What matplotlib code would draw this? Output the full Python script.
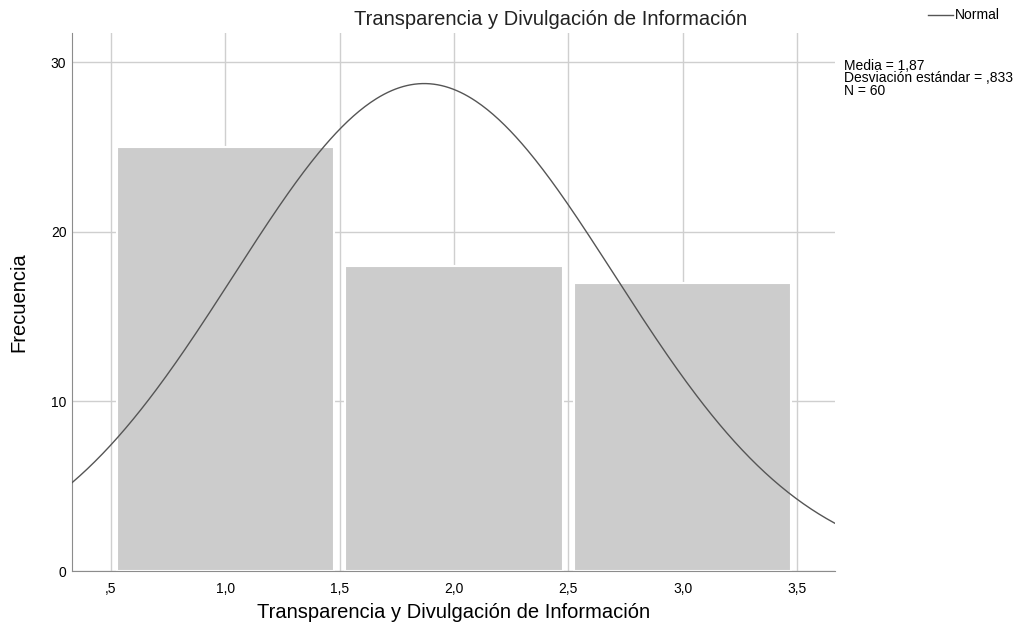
import numpy as np
import matplotlib
matplotlib.use('Agg')
import matplotlib.pyplot as plt

centros = [1.0, 2.0, 3.0]
frecuencias = [25, 18, 17]
media = 1.87
desv = 0.833
n = 60
xticks = [0.5, 1.0, 1.5, 2.0, 2.5, 3.0, 3.5]
xlabels = [',5', '1,0', '1,5', '2,0', '2,5', '3,0', '3,5']
yticks = [0, 10, 20, 30]

fuente = ['Liberation Sans', 'DejaVu Sans']
plt.rcParams['font.family'] = fuente

fig = plt.figure(figsize=(10.25, 6.4), dpi=100)
ax = fig.add_axes([0.0702, 0.1078, 0.7444, 0.8402])

ax.bar(centros, frecuencias, width=0.95, color='#cccccc', edgecolor='white',
       linewidth=1.5, zorder=2)

xx = np.linspace(0.33, 3.67, 400)
yy = n * 1.0 / (desv * np.sqrt(2 * np.pi)) * np.exp(-0.5 * ((xx - media) / desv) ** 2)
ax.plot(xx, yy, color='#555555', linewidth=1.0, zorder=3)

ax.set_xlim(0.33, 3.666)
ax.set_ylim(0, 31.7)
ax.set_xticks(xticks)
ax.set_xticklabels(xlabels, fontsize=10)
ax.set_yticks(yticks)
ax.set_yticklabels([str(v) for v in yticks], fontsize=10)
ax.grid(True, color='#cfcfcf', linewidth=1.0, zorder=0)
ax.set_axisbelow(True)
for s in ['top', 'right']:
    ax.spines[s].set_visible(False)
for s in ['left', 'bottom']:
    ax.spines[s].set_color('#8c8c8c')
ax.tick_params(axis='x', length=0, pad=8)
ax.tick_params(axis='y', length=0, pad=4)

ax.set_xlabel('Transparencia y Divulgación de Información', fontsize=14.5, labelpad=5)
ax.set_ylabel('Frecuencia', fontsize=14.5, labelpad=16)
fig.text(0.5376, 0.970, 'Transparencia y Divulgación de Información',
         fontsize=14.5, ha='center', va='center', color='#222222')

# leyenda y estadisticos
fig.add_artist(plt.Line2D([0.905, 0.930], [0.977, 0.977], color='#555555', linewidth=1.0))
fig.text(0.932, 0.977, 'Normal', fontsize=10, va='center')
fig.text(0.823, 0.908, 'Media = 1,87\nDesviación estándar = ,833\nN = 60',
         fontsize=10, va='top', linespacing=0.86)

fig.savefig('out.png', dpi=100)
